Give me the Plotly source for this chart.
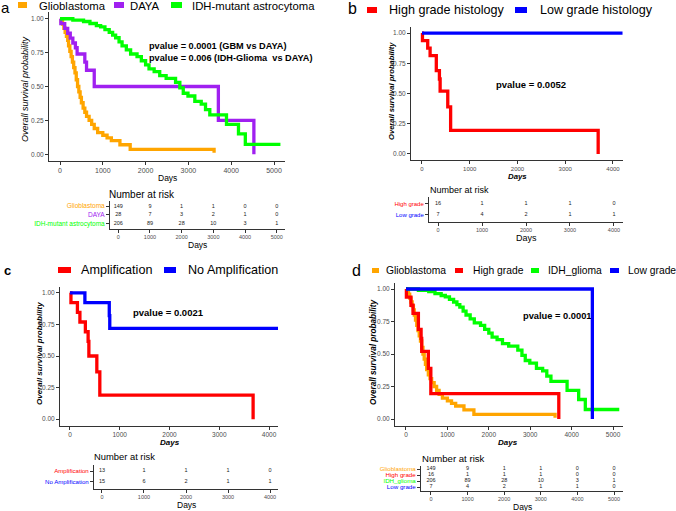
import plotly.graph_objects as go

W, H = 676, 511
FONT = "Liberation Sans, Arial, sans-serif"

# ---------------- data ----------------
gbm_days = [0, 30, 60, 90, 120, 150, 180, 200, 230, 260, 290, 320, 350, 380, 410, 440, 470, 500, 540,
            580, 620, 680, 740, 800, 880, 1000, 1100, 1200, 1400, 1640, 3600]
gbm_surv = [1.0, 0.98, 0.96, 0.93, 0.90, 0.87, 0.84, 0.80, 0.76, 0.72, 0.68, 0.64, 0.60, 0.55, 0.50,
            0.46, 0.42, 0.38, 0.34, 0.31, 0.28, 0.25, 0.22, 0.19, 0.16, 0.14, 0.12, 0.10, 0.07, 0.036, 0.01]

daya_days = [0, 20, 110, 180, 240, 300, 360, 400, 580, 620, 800, 3700, 4530]
daya_surv = [1.0, 0.964, 0.929, 0.893, 0.857, 0.821, 0.786, 0.74, 0.68, 0.62, 0.50, 0.25, 0.0]

idh_days = [0, 300, 550, 700, 850, 950, 1050, 1150, 1230, 1300, 1380, 1450, 1550, 1650, 1800, 1900,
            2000, 2080, 2200, 2330, 2480, 2700, 2800, 2880, 2990, 3150, 3300, 3400, 3500, 3890, 4170,
            4330, 5150]
idh_surv = [1.0, 0.99, 0.98, 0.965, 0.95, 0.94, 0.92, 0.90, 0.88, 0.86, 0.83, 0.80, 0.77, 0.74, 0.72,
            0.69, 0.66, 0.63, 0.61, 0.58, 0.56, 0.53, 0.49, 0.45, 0.43, 0.39, 0.37, 0.33, 0.29, 0.22,
            0.15, 0.073, 0.073]

hg_days = [0, 10, 120, 170, 300, 365, 380, 540, 600, 3690]
hg_surv = [1.0, 0.9375, 0.875, 0.8125, 0.69, 0.62, 0.52, 0.39, 0.195, 0.0]

lgb_days = [0, 4200]
lgb_surv = [1.0, 1.0]

lgd_days = [0, 4500]
lgd_surv = [1.0, 0.0]

amp_days = [0, 20, 150, 200, 310, 365, 380, 540, 600, 3680]
amp_surv = [1.0, 0.923, 0.846, 0.769, 0.692, 0.615, 0.50, 0.375, 0.19, 0.0]

noamp_days = [0, 300, 790, 800, 4180]
noamp_surv = [1.0, 0.923, 0.82, 0.718, 0.718]

risk_t5 = [0, 1000, 2000, 3000, 4000, 5000]
risk_t4 = [0, 1000, 2000, 3000, 4000]
risk_a_gbm = [149, 9, 1, 1, 0, 0]
risk_a_daya = [28, 7, 3, 2, 1, 0]
risk_a_idh = [206, 89, 28, 10, 3, 1]
risk_b_hg = [16, 1, 1, 1, 0]
risk_b_lg = [7, 4, 2, 1, 1]
risk_c_amp = [13, 1, 1, 1, 0]
risk_c_noamp = [15, 6, 2, 1, 1]
risk_d_gbm = [149, 9, 1, 1, 0, 0]
risk_d_hg = [16, 1, 1, 1, 0, 0]
risk_d_idh = [206, 89, 28, 10, 3, 1]
risk_d_lg = [7, 4, 2, 1, 1, 0]

surv_ticks = [0, 0.25, 0.5, 0.75, 1.0]
surv_ticklabels = ["0.00", "0.25", "0.50", "0.75", "1.00"]

ORANGE, PURPLE, GREEN, RED, BLUE = "#FFA500", "#A020F0", "#00FF00", "#FF0000", "#0000FF"

# ---------------- helpers ----------------
def fx(px):
    return px / W

def fy(py):
    return 1 - py / H

def base_axis(**kw):
    d = dict(showline=True, linecolor="#333333", linewidth=1, ticks="outside", ticklen=3,
             tickwidth=1, tickcolor="#333333", showgrid=False, zeroline=False, fixedrange=True,
             tickfont=dict(size=6.5, color="#4D4D4D", family=FONT))
    d.update(kw)
    return d

fig = go.Figure()
layout = dict(width=W, height=H, margin=dict(l=0, r=0, t=0, b=0), paper_bgcolor="white",
              plot_bgcolor="white", showlegend=False, font=dict(family=FONT))

def km_axes(n, xdom, ydom, xrange, xticks, xtickfs=6.5):
    xa = "xaxis" if n == 1 else f"xaxis{n}"
    ya = "yaxis" if n == 1 else f"yaxis{n}"
    xr = "x" if n == 1 else f"x{n}"
    yr = "y" if n == 1 else f"y{n}"
    layout[xa] = base_axis(domain=[fx(xdom[0]), fx(xdom[1])], range=xrange, anchor=yr,
                           tickvals=xticks, ticktext=[str(t) for t in xticks],
                           tickfont=dict(size=xtickfs, color="#4D4D4D", family=FONT))
    layout[ya] = base_axis(domain=[fy(ydom[1]), fy(ydom[0])], range=[-0.05, 1.05], anchor=xr,
                           tickvals=surv_ticks, ticktext=surv_ticklabels)
    return xr, yr

def risk_axes(n, xdom, ydom, xrange, xticks, labels, colors, labfs):
    xa = f"xaxis{n}"
    ya = f"yaxis{n}"
    xr = f"x{n}"
    yr = f"y{n}"
    k = len(labels)
    layout[xa] = base_axis(domain=[fx(xdom[0]), fx(xdom[1])], range=xrange, anchor=yr,
                           tickvals=xticks, ticktext=[str(t) for t in xticks],
                           tickfont=dict(size=5.5, color="#4D4D4D", family=FONT))
    layout[ya] = base_axis(domain=[fy(ydom[1]), fy(ydom[0])], range=[0.4, k + 0.6], anchor=xr,
                           tickvals=list(range(k, 0, -1)),
                           ticktext=[f'<span style="color:{c}">{l}</span>' for l, c in zip(labels, colors)],
                           tickfont=dict(size=labfs, family=FONT))
    return xr, yr

def km_line(x, y, color, xr, yr):
    fig.add_trace(go.Scatter(x=x, y=y, mode="lines", line=dict(shape="hv", width=3.3, color=color),
                             xaxis=xr, yaxis=yr, hoverinfo="skip"))

def risk_row(times, counts, row, xr, yr):
    fig.add_trace(go.Scatter(x=times, y=[row] * len(times), mode="text", text=[str(c) for c in counts],
                             textfont=dict(size=5.5, color="#222222", family=FONT), xaxis=xr, yaxis=yr,
                             hoverinfo="skip"))

annotations = []
shapes = []

def text(x, y, s, size, bold=False, italic=False, color="black", xanchor="center", angle=0, align="center"):
    if bold:
        s = f"<b>{s}</b>"
    if italic:
        s = f"<i>{s}</i>"
    annotations.append(dict(x=fx(x), y=fy(y), xref="paper", yref="paper", text=s, showarrow=False,
                            xanchor=xanchor, yanchor="middle", textangle=angle, align=align,
                            font=dict(size=size, color=color, family=FONT)))

def swatch(x0, x1, y0, y1, color):
    shapes.append(dict(type="rect", xref="paper", yref="paper", x0=fx(x0), x1=fx(x1), y0=fy(y1), y1=fy(y0),
                       fillcolor=color, line=dict(width=0)))

# ---------------- panel a ----------------
xr, yr = km_axes(1, (49, 285), (12, 161), [-257, 5257], risk_t5, 7)
km_line(gbm_days, gbm_surv, ORANGE, xr, yr)
km_line(daya_days, daya_surv, PURPLE, xr, yr)
km_line(idh_days, idh_surv, GREEN, xr, yr)
xr, yr = risk_axes(2, (110, 285), (201, 228.5), [-260, 5260], risk_t5,
                   ["Glioblastoma", "DAYA", "IDH-mutant astrocytoma"], [ORANGE, PURPLE, GREEN], 6.5)
risk_row(risk_t5, risk_a_gbm, 3, xr, yr)
risk_row(risk_t5, risk_a_daya, 2, xr, yr)
risk_row(risk_t5, risk_a_idh, 1, xr, yr)

text(5, 7, "a", 15)
swatch(18, 27, 2, 8, ORANGE); text(37, 5.5, "Glioblastoma", 11.3, xanchor="left")
swatch(114, 124, 2, 8, PURPLE); text(128, 5.5, "DAYA", 11.3, xanchor="left")
swatch(171, 182, 2, 8, GREEN); text(190, 5.5, "IDH-mutant astrocytoma", 11.3, xanchor="left")
text(147, 52.5, "<b>pvalue = 0.0001 (GBM vs DAYA)<br>pvalue = 0.006 (IDH-Glioma  vs DAYA)</b>", 9.2,
     xanchor="left", align="left")
text(25, 89, "Overall survival probability", 9, italic=True, angle=-90)
text(167, 178, "Days", 8.5)
text(142, 194, "Number at risk", 10)
text(197, 245, "Days", 8.5)

# ---------------- panel b ----------------
xr, yr = km_axes(3, (411, 623), (27, 160), [-230, 4210], risk_t4, 6)
km_line(hg_days, hg_surv, RED, xr, yr)
km_line(lgb_days, lgb_surv, BLUE, xr, yr)
xr, yr = risk_axes(4, (429, 623), (197, 221.5), [-205, 4205], risk_t4,
                   ["High grade", "Low grade"], [RED, BLUE], 6)
risk_row(risk_t4, risk_b_hg, 2, xr, yr)
risk_row(risk_t4, risk_b_lg, 1, xr, yr)

text(353, 9, "b", 16)
swatch(367, 377, 7, 13, RED); text(387, 9.5, "High grade histology", 12.6, xanchor="left")
swatch(515, 527, 7, 13, BLUE); text(538, 9.5, "Low grade histology", 12.6, xanchor="left")
text(531, 85, "pvalue = 0.0052", 9.5, bold=True)
text(391, 91, "Overall survival probability", 7.6, bold=True, italic=True, angle=-90)
text(517, 176, "Days", 7.8, bold=True, italic=True)
text(459, 190, "Number at risk", 9)
text(526, 237.5, "Days", 9)

# ---------------- panel c ----------------
xr, yr = km_axes(5, (60, 278), (286.5, 425.5), [-200, 4180], risk_t4, 6.5)
km_line(amp_days, amp_surv, RED, xr, yr)
km_line(noamp_days, noamp_surv, BLUE, xr, yr)
xr, yr = risk_axes(6, (94, 278), (464.5, 488.5), [-190, 4190], risk_t4,
                   ["Amplification", "No Amplification"], [RED, BLUE], 6.1)
risk_row(risk_t4, risk_c_amp, 2, xr, yr)
risk_row(risk_t4, risk_c_noamp, 1, xr, yr)

text(7, 270, "c", 13, bold=True)
swatch(58, 71, 267, 273, RED); text(79, 270, "Amplification", 12.6, xanchor="left")
swatch(164, 176, 267, 273, BLUE); text(186, 270, "No Amplification", 12.6, xanchor="left")
text(168, 312, "pvalue = 0.0021", 9.5, bold=True)
text(39, 354, "Overall survival probability", 8, bold=True, italic=True, angle=-90)
text(170, 442, "Days", 8, bold=True, italic=True)
text(124, 456, "Number at risk", 9.4)
text(186, 505, "Days", 8.5)

# ---------------- panel d ----------------
xr, yr = km_axes(7, (395, 623), (282.5, 425.5), [-265, 5240], risk_t5, 6.5)
km_line(gbm_days, gbm_surv, ORANGE, xr, yr)
km_line(hg_days, hg_surv, RED, xr, yr)
km_line(idh_days, idh_surv, GREEN, xr, yr)
km_line(lgd_days, lgd_surv, BLUE, xr, yr)
xr, yr = risk_axes(8, (421, 623), (465.5, 490.7), [-273, 5246], risk_t5,
                   ["Glioblastoma", "High grade", "IDH_glioma", "Low grade"],
                   [ORANGE, RED, GREEN, BLUE], 6.2)
risk_row(risk_t5, risk_d_gbm, 4, xr, yr)
risk_row(risk_t5, risk_d_hg, 3, xr, yr)
risk_row(risk_t5, risk_d_idh, 2, xr, yr)
risk_row(risk_t5, risk_d_lg, 1, xr, yr)

text(356, 270, "d", 16)
swatch(372, 379, 268, 273, ORANGE); text(384, 270, "Glioblastoma", 10.3, xanchor="left")
swatch(455, 463, 268, 273, RED); text(471, 270, "High grade", 10.3, xanchor="left")
swatch(531, 539, 268, 273, GREEN); text(546, 270, "IDH_glioma", 10.3, xanchor="left")
swatch(610, 619, 268, 273, BLUE); text(626, 270, "Low grade", 10.3, xanchor="left")
text(557, 316, "pvalue = 0.0001", 9.3, bold=True)
text(373, 352, "Overall survival probability", 8.2, bold=True, italic=True, angle=-90)
text(508, 442, "Days", 8, bold=True, italic=True)
text(453, 458, "Number at risk", 9.6)
text(522, 507, "Days", 8.5)

layout["annotations"] = annotations
layout["shapes"] = shapes
fig.update_layout(**layout)
fig.write_html("out.html")
